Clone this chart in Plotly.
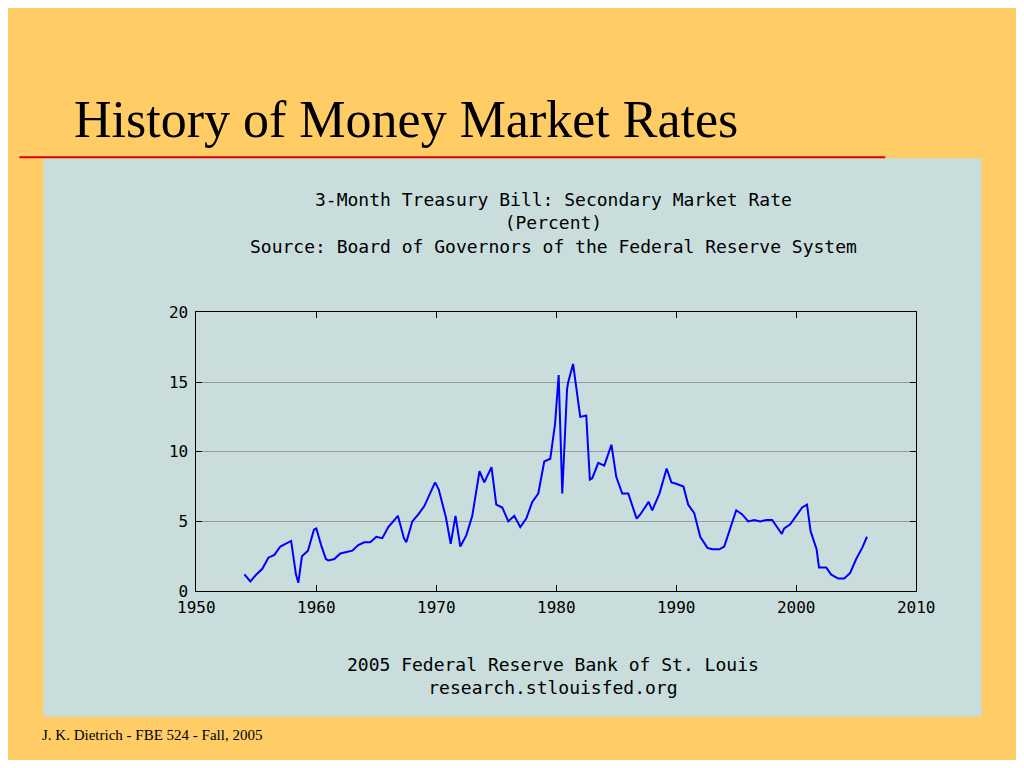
import plotly.graph_objects as go

# approximate 3-month T-bill rate
years = [1954.0, 1954.5, 1955.0, 1955.5, 1956.0, 1956.5, 1957.0, 1957.5, 1957.9, 1958.3,
         1958.5, 1958.8, 1959.3, 1959.8, 1960.0, 1960.4, 1960.8, 1961.0, 1961.5, 1962.0,
         1962.5, 1963.0, 1963.5, 1964.0, 1964.5, 1965.0, 1965.5, 1966.0, 1966.8, 1967.3,
         1967.5, 1968.0, 1968.5, 1969.0, 1969.9, 1970.2, 1970.8, 1971.2, 1971.6, 1972.0,
         1972.5, 1973.0, 1973.6, 1974.0, 1974.6, 1975.0, 1975.5, 1976.0, 1976.5, 1977.0,
         1977.5, 1978.0, 1978.5, 1979.0, 1979.5, 1979.9, 1980.2, 1980.5, 1980.9, 1981.0,
         1981.4, 1981.8, 1982.0, 1982.5, 1982.8, 1983.0, 1983.5, 1984.0, 1984.6, 1985.0,
         1985.5, 1986.0, 1986.7, 1987.0, 1987.7, 1988.0, 1988.6, 1989.2, 1989.6, 1990.0,
         1990.6, 1991.0, 1991.5, 1992.0, 1992.6, 1993.0, 1993.6, 1994.0, 1994.5, 1995.0,
         1995.5, 1996.0, 1996.5, 1997.0, 1997.5, 1998.0, 1998.8, 1999.0, 1999.5, 2000.0,
         2000.5, 2000.9, 2001.2, 2001.7, 2001.9, 2002.5, 2002.9, 2003.5, 2004.0, 2004.5,
         2005.0, 2005.5, 2005.9]
rates = [1.2, 0.7, 1.2, 1.6, 2.4, 2.6, 3.2, 3.4, 3.6, 1.2,
         0.6, 2.5, 2.9, 4.4, 4.5, 3.3, 2.3, 2.2, 2.3, 2.7,
         2.8, 2.9, 3.3, 3.5, 3.5, 3.9, 3.8, 4.6, 5.4, 3.8,
         3.5, 5.0, 5.5, 6.1, 7.8, 7.3, 5.3, 3.4, 5.4, 3.2,
         4.0, 5.4, 8.6, 7.8, 8.9, 6.2, 6.0, 5.0, 5.4, 4.6,
         5.2, 6.4, 7.0, 9.3, 9.5, 12.0, 15.5, 7.0, 14.5, 15.0,
         16.3, 13.5, 12.5, 12.6, 8.0, 8.1, 9.2, 9.0, 10.5, 8.2,
         7.0, 7.0, 5.2, 5.5, 6.4, 5.8, 7.0, 8.8, 7.8, 7.7,
         7.5, 6.2, 5.6, 3.9, 3.1, 3.0, 3.0, 3.2, 4.5, 5.8,
         5.5, 5.0, 5.1, 5.0, 5.1, 5.1, 4.1, 4.5, 4.8, 5.4,
         6.0, 6.2, 4.3, 3.0, 1.7, 1.7, 1.2, 0.9, 0.9, 1.3,
         2.3, 3.1, 3.9]
x_ticks = [1950, 1960, 1970, 1980, 1990, 2000, 2010]
y_ticks = [0, 5, 10, 15, 20]

# page has an 8px body margin, so the figure is drawn 16px smaller
OFF = 8
W, H = 1008, 752
mono = "DejaVu Sans Mono"

def px(x):
    return (x - OFF) / W

def py(y):
    return 1 - (y - OFF) / H

fig = go.Figure()
fig.add_trace(go.Scatter(x=years, y=rates, mode='lines',
                         line=dict(color='#0000FF', width=2), showlegend=False))

axis_common = dict(showline=True, linecolor='black', linewidth=1, mirror='ticks',
                   ticks='inside', ticklen=6, tickcolor='black', zeroline=False,
                   tickfont=dict(family=mono, size=16, color='black'))
fig.update_xaxes(range=[1950, 2010], tickvals=x_ticks, showgrid=False, ticklabelstandoff=2,
                 domain=[px(184), px(932)], **axis_common)
fig.update_yaxes(range=[0, 20], tickvals=y_ticks, showgrid=True, gridcolor='#999999',
                 ticklabelstandoff=4, domain=[py(597), py(311)], **axis_common)

shapes = [
    dict(type='rect', xref='paper', yref='paper', x0=px(25), x1=px(1000), y0=py(726), y1=py(153),
         fillcolor='#C8DDDC', line=dict(width=0), layer='below'),
    dict(type='line', xref='paper', yref='paper', x0=px(0), x1=px(900), y0=py(152), y1=py(152),
         line=dict(color='#DD0000', width=2)),
]
ann = [
    dict(text="History of Money Market Rates", x=px(55), y=py(113), xanchor='left', yanchor='middle',
         font=dict(family="Liberation Serif", size=52, color='black')),
    dict(text="3-Month Treasury Bill: Secondary Market Rate<br>(Percent)<br>"
              "Source: Board of Governors of the Federal Reserve System",
         x=px(555), y=py(219), xanchor='center', yanchor='middle',
         font=dict(family=mono, size=18, color='black')),
    dict(text="2005 Federal Reserve Bank of St. Louis<br>research.stlouisfed.org",
         x=px(555), y=py(684), xanchor='center', yanchor='middle',
         font=dict(family=mono, size=18, color='black')),
    dict(text="J. K. Dietrich - FBE 524 - Fall, 2005", x=px(22), y=py(745), xanchor='left',
         yanchor='middle', font=dict(family="Liberation Serif", size=15, color='black')),
]
for a in ann:
    a.update(xref='paper', yref='paper', showarrow=False)

fig.update_layout(width=W, height=H, margin=dict(l=0, r=0, t=0, b=0),
                  paper_bgcolor='#FFCC66', plot_bgcolor='#C8DDDC',
                  shapes=shapes, annotations=ann)

fig.write_html("out.html")
